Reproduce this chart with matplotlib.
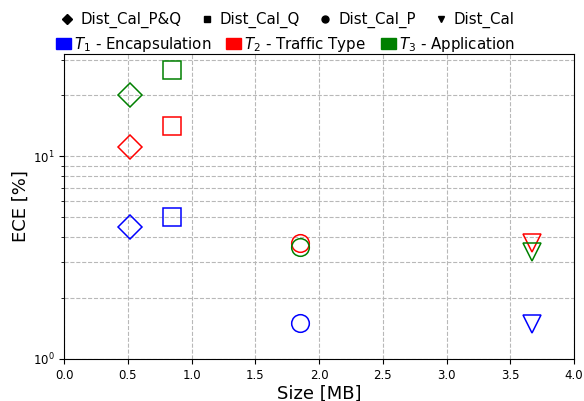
import matplotlib
matplotlib.use("Agg")
import matplotlib.pyplot as plt
from matplotlib.lines import Line2D
from matplotlib.patches import Patch

# Data
methods = ["Dist_Cal_P&Q", "Dist_Cal_Q", "Dist_Cal_P", "Dist_Cal"]
markers = ["D", "s", "o", "v"]
sizes_mb = [0.52, 0.85, 1.85, 3.67]
tasks = ["$T_1$ - Encapsulation", "$T_2$ - Traffic Type", "$T_3$ - Application"]
colors = ["blue", "red", "green"]
ece_t1 = [4.47, 5.0, 1.50, 1.48]
ece_t2 = [11.1, 14.2, 3.73, 3.75]
ece_t3 = [20.0, 26.8, 3.56, 3.38]
ece = [ece_t1, ece_t2, ece_t3]

fig = plt.figure(figsize=(5.84, 4.01), dpi=100)
ax = fig.add_axes([64/584, 1 - 359/401, 510/584, 305/401])

for ti, vals in enumerate(ece):
    for mi, m in enumerate(markers):
        ax.plot(sizes_mb[mi], vals[mi], marker=m, linestyle="none",
                markerfacecolor="none", markeredgecolor=colors[ti],
                markersize=12.7, markeredgewidth=1.1)

ax.set_yscale("log")
ax.set_xlim(0, 4)
ax.set_ylim(1, 32)
ax.set_xticks([0, 0.5, 1, 1.5, 2, 2.5, 3, 3.5, 4])
ax.grid(True, which="major", linestyle="--", color="#b8b8b8", linewidth=0.8)
ax.grid(True, which="minor", axis="y", linestyle="--", color="#b8b8b8", linewidth=0.8)
ax.tick_params(axis="both", labelsize=8.5)
ax.set_xlabel("Size [MB]", fontsize=13, labelpad=2)
ax.set_ylabel("ECE [%]", fontsize=13, labelpad=2)

h1 = [Line2D([], [], marker=m, linestyle="none", color="black", markersize=5)
      for m in markers]
leg1 = fig.legend(h1, methods, loc="center", bbox_to_anchor=(288/584, 1 - 20/401),
                  ncol=4, frameon=False, fontsize=10.8, handlelength=0.8,
                  handletextpad=0.45, columnspacing=1.3, borderaxespad=0, borderpad=0)
h2 = [Patch(facecolor=c, edgecolor=c) for c in colors]
leg2 = fig.legend(h2, tasks, loc="center", bbox_to_anchor=(285/584, 1 - 44/401),
                  ncol=3, frameon=False, fontsize=10.8, handlelength=1.0,
                  handleheight=0.7, handletextpad=0.2, columnspacing=1.0,
                  borderaxespad=0, borderpad=0)

fig.savefig("out.png", dpi=100)
